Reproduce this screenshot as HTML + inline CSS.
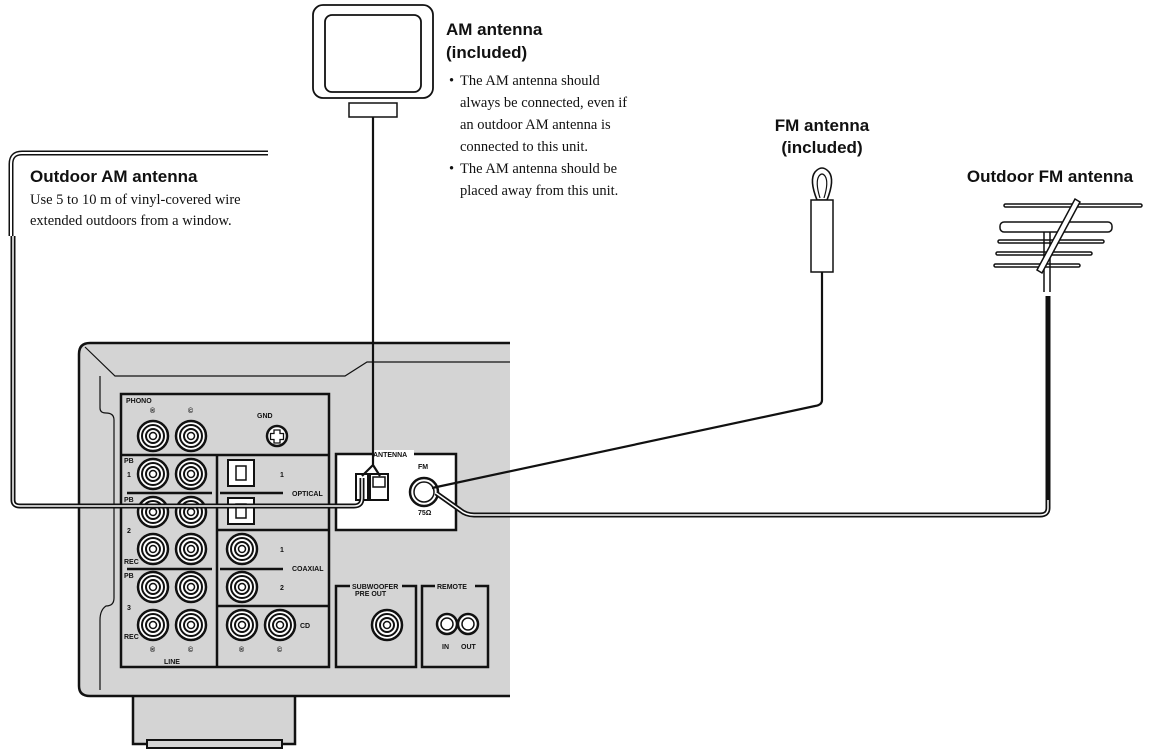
<!DOCTYPE html>
<html><head><meta charset="utf-8"><style>
html,body{margin:0;padding:0;background:#fff}
svg{display:block}
.b{font-family:"Liberation Sans",sans-serif;font-weight:bold;font-size:17px;fill:#111}
.s{font-family:"Liberation Serif",serif;font-size:14.5px;fill:#111}
.t{font-family:"Liberation Sans",sans-serif;font-weight:bold;font-size:7px;fill:#111}
</style></head><body>
<svg width="1159" height="756" viewBox="0 0 1159 756" xmlns="http://www.w3.org/2000/svg">
<defs>
<g id="j"><circle r="15" fill="#fff" stroke="#111" stroke-width="2.5"/><circle r="11" fill="none" stroke="#111" stroke-width="2"/><circle r="7" fill="none" stroke="#111" stroke-width="2"/><circle r="3.5" fill="#fff" stroke="#111" stroke-width="1.5"/></g>
</defs>
<rect x="133" y="692" width="162" height="52" fill="#d4d4d4" stroke="#111" stroke-width="2.5"/>
<rect x="147" y="740" width="135" height="8" fill="#d4d4d4" stroke="#111" stroke-width="2"/>
<path d="M510 343 H90 Q79 343 79 354 V686 Q79 696 90 696 H510" fill="#d4d4d4" stroke="#111" stroke-width="2.5"/>
<path d="M85 347 L115 376 H345 L367 362 H510" fill="none" stroke="#111" stroke-width="1.2"/>
<path d="M100 376 V408 Q100 413 106 413 Q114 413 114 420 V598 Q114 606 106 606 Q100 610 100 620 V690" fill="none" stroke="#111" stroke-width="1.2"/>
<rect x="121" y="394" width="208" height="273" fill="#d4d4d4" stroke="#111" stroke-width="2.5"/>
<line x1="121" y1="455" x2="329" y2="455" stroke="#111" stroke-width="2.5"/>
<line x1="217" y1="455" x2="217" y2="667" stroke="#111" stroke-width="2.5"/>
<line x1="217" y1="530" x2="329" y2="530" stroke="#111" stroke-width="2.5"/>
<line x1="217" y1="606" x2="329" y2="606" stroke="#111" stroke-width="2.5"/>
<line x1="127" y1="493" x2="212" y2="493" stroke="#111" stroke-width="2.5"/>
<line x1="220" y1="493" x2="283" y2="493" stroke="#111" stroke-width="2.5"/>
<line x1="127" y1="569" x2="212" y2="569" stroke="#111" stroke-width="2.5"/>
<line x1="220" y1="569" x2="283" y2="569" stroke="#111" stroke-width="2.5"/>
<text class="t" x="126" y="403">PHONO</text>
<text class="t" x="150" y="413">®</text><text class="t" x="188" y="413">©</text>
<text class="t" x="257" y="418">GND</text>
<circle cx="277" cy="436" r="10" fill="#fff" stroke="#111" stroke-width="2.5"/>
<path d="M274 430h6v3.5h3.5v6h-3.5v3.5h-6v-3.5h-3.5v-6h3.5z" fill="#fff" stroke="#111" stroke-width="1.3"/>
<use href="#j" x="153" y="436"/><use href="#j" x="191" y="436"/>
<use href="#j" x="153" y="474"/><use href="#j" x="191" y="474"/>
<use href="#j" x="153" y="512"/><use href="#j" x="191" y="512"/>
<use href="#j" x="153" y="549"/><use href="#j" x="191" y="549"/>
<use href="#j" x="153" y="587"/><use href="#j" x="191" y="587"/>
<use href="#j" x="153" y="625"/><use href="#j" x="191" y="625"/>
<use href="#j" x="242" y="549"/><use href="#j" x="242" y="587"/>
<use href="#j" x="242" y="625"/><use href="#j" x="280" y="625"/>
<rect x="228" y="460" width="26" height="26" fill="#fff" stroke="#111" stroke-width="2"/>
<path d="M236 466h10v14h-10z" fill="none" stroke="#111" stroke-width="1.5"/>
<rect x="228" y="498" width="26" height="26" fill="#fff" stroke="#111" stroke-width="2"/>
<path d="M236 504h10v14h-10z" fill="none" stroke="#111" stroke-width="1.5"/>
<text class="t" x="124" y="463">PB</text><text class="t" x="127" y="477">1</text>
<text class="t" x="124" y="502">PB</text>
<text class="t" x="127" y="533">2</text>
<text class="t" x="124" y="564">REC</text>
<text class="t" x="124" y="578">PB</text>
<text class="t" x="127" y="610">3</text>
<text class="t" x="124" y="639">REC</text>
<text class="t" x="150" y="652">®</text><text class="t" x="188" y="652">©</text>
<text class="t" x="164" y="664">LINE</text>
<text class="t" x="239" y="652">®</text><text class="t" x="277" y="652">©</text>
<text class="t" x="280" y="477">1</text><text class="t" x="292" y="496">OPTICAL</text>
<text class="t" x="280" y="552">1</text><text class="t" x="292" y="571">COAXIAL</text>
<text class="t" x="280" y="590">2</text><text class="t" x="300" y="628">CD</text>
<rect x="336" y="454" width="120" height="76" fill="#fff" stroke="#111" stroke-width="2.5"/>
<rect x="372" y="450" width="42" height="8" fill="#fff"/>
<text class="t" x="373" y="457">ANTENNA</text>
<text class="t" x="418" y="469">FM</text>
<text class="t" x="418" y="515">75Ω</text>
<circle cx="424" cy="492" r="14" fill="#fff" stroke="#111" stroke-width="2.5"/>
<circle cx="424" cy="492" r="10" fill="none" stroke="#111" stroke-width="1.5"/>
<rect x="356" y="474" width="12" height="26" fill="#fff" stroke="#111" stroke-width="2"/>
<rect x="370" y="474" width="18" height="26" fill="#fff" stroke="#111" stroke-width="2"/>
<rect x="373" y="477" width="12" height="10" fill="none" stroke="#111" stroke-width="1.5"/>
<rect x="336" y="586" width="80" height="81" fill="#d4d4d4" stroke="#111" stroke-width="2.5"/>
<rect x="350" y="582" width="52" height="16" fill="#d4d4d4"/>
<text class="t" x="352" y="589">SUBWOOFER</text><text class="t" x="355" y="596">PRE OUT</text>
<use href="#j" x="387" y="625"/>
<rect x="422" y="586" width="66" height="81" fill="#d4d4d4" stroke="#111" stroke-width="2.5"/>
<rect x="435" y="582" width="40" height="8" fill="#d4d4d4"/>
<text class="t" x="437" y="589">REMOTE</text>
<circle cx="447" cy="624" r="10" fill="#fff" stroke="#111" stroke-width="2.5"/><circle cx="447" cy="624" r="6" fill="none" stroke="#111" stroke-width="1.5"/>
<circle cx="468" cy="624" r="10" fill="#fff" stroke="#111" stroke-width="2.5"/><circle cx="468" cy="624" r="6" fill="none" stroke="#111" stroke-width="1.5"/>
<text class="t" x="442" y="649">IN</text><text class="t" x="461" y="649">OUT</text>
<rect x="313" y="5" width="120" height="93" rx="10" fill="#fff" stroke="#111" stroke-width="1.8"/>
<rect x="325" y="15" width="96" height="77" rx="7" fill="#fff" stroke="#111" stroke-width="1.8"/>
<rect x="349" y="103" width="48" height="14" fill="#fff" stroke="#111" stroke-width="1.5"/>
<path d="M373 117 V465 M373 465 L362 476 M373 465 L380 476" fill="none" stroke="#111" stroke-width="2.2"/>
<path d="M268 153 H22 Q11 153 11 164 V236" fill="none" stroke="#111" stroke-width="5"/>
<path d="M268 153 H22 Q11 153 11 164 V236" fill="none" stroke="#fff" stroke-width="2"/>
<path d="M13 236 V500 Q13 506 20 506 H354 Q362 506 362 498 V478" fill="none" stroke="#111" stroke-width="5"/>
<path d="M13 236 V500 Q13 506 20 506 H354 Q362 506 362 498 V478" fill="none" stroke="#fff" stroke-width="1.5"/>
<!-- FM antenna included -->
<path d="M817 200 Q809 180 815 172 Q822 164 829 172 Q835 180 827 200 Z" fill="#fff" stroke="#111" stroke-width="1.6"/>
<path d="M820 198 Q815 182 819 176 Q822 172 825 176 Q829 182 824 198" fill="none" stroke="#111" stroke-width="1.2"/>
<rect x="811" y="200" width="22" height="72" fill="#fff" stroke="#111" stroke-width="1.5"/>
<path d="M822 272 V400 Q822 405 815 406 L432 488" fill="none" stroke="#111" stroke-width="2.2"/>
<g stroke="#111" stroke-width="1.5" fill="#fff">
<rect x="1004" y="204" width="138" height="3" rx="1.5"/>
<rect x="1000" y="222" width="112" height="10" rx="4"/>
<rect x="998" y="240" width="106" height="3" rx="1.5"/>
<rect x="996" y="252" width="96" height="3" rx="1.5"/>
<rect x="994" y="264" width="86" height="3" rx="1.5"/>
<path d="M1044 232 V292 M1050 232 V292"/>
<path d="M1037 270 L1075 199 L1080 202 L1042 273 Z"/>
</g>
<path d="M1048 296 V508 Q1048 515 1040 515 H474 Q466 515 460 510 L436 493" fill="none" stroke="#111" stroke-width="5"/>
<path d="M1048 296 V508 Q1048 515 1040 515 H474 Q466 515 460 510 L436 493" fill="none" stroke="#fff" stroke-width="1.5"/>
<line x1="1048" y1="296" x2="1048" y2="500" stroke="#111" stroke-width="2.2"/>
<text class="b" x="446" y="35">AM antenna</text>
<text class="b" x="446" y="58">(included)</text>
<g class="s">
<text x="449" y="85">•</text><text x="460" y="85">The AM antenna should</text>
<text x="460" y="107">always be connected, even if</text>
<text x="460" y="129">an outdoor AM antenna is</text>
<text x="460" y="151">connected to this unit.</text>
<text x="449" y="173">•</text><text x="460" y="173">The AM antenna should be</text>
<text x="460" y="195">placed away from this unit.</text>
<text x="30" y="204">Use 5 to 10 m of vinyl-covered wire</text>
<text x="30" y="225">extended outdoors from a window.</text>
</g>
<text class="b" x="30" y="182">Outdoor AM antenna</text>
<text class="b" x="822" y="131" text-anchor="middle">FM antenna</text>
<text class="b" x="822" y="153" text-anchor="middle">(included)</text>
<text class="b" x="1050" y="182" text-anchor="middle">Outdoor FM antenna</text>
</svg>
</body></html>
